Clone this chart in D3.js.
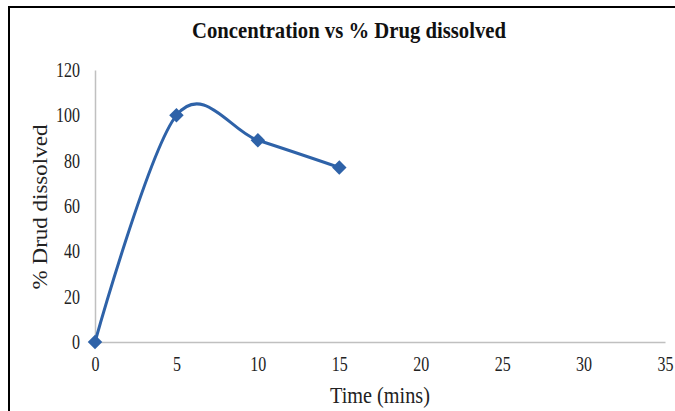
<!DOCTYPE html>
<html>
<head>
<meta charset="utf-8">
<script src="https://cdn.jsdelivr.net/npm/d3@7"></script>
<style>
  body { margin: 0; background: #fff; }
  svg { display: block; }
</style>
</head>
<body>
<div id="chart"></div>
<script>
// data
const times = [0, 5, 10, 15];
const dissolved = [0, 100, 89, 77];
const xTicks = [0, 5, 10, 15, 20, 25, 30, 35];
const yTicks = [0, 20, 40, 60, 80, 100, 120];

const W = 675, H = 411;
const margin = { top: 70, left: 95 };
const width = 665 - margin.left;
const height = 342 - margin.top;

// the source picture is a bit squeezed sideways, so text is narrowed
const squeeze = 0.8;

const svg = d3.select("#chart")
    .append("svg")
    .attr("width", W)
    .attr("height", H);

// frame (only top and left are visible in the shot)
svg.append("line").attr("x1", 8).attr("x2", W).attr("y1", 7).attr("y2", 7)
    .attr("stroke", "#000").attr("stroke-width", 2);
svg.append("line").attr("x1", 9).attr("x2", 9).attr("y1", 6).attr("y2", H)
    .attr("stroke", "#000").attr("stroke-width", 2);

const g = svg.append("g")
    .attr("transform", `translate(${margin.left},${margin.top})`);

const xScale = d3.scaleLinear().domain([0, 35]).range([0, width]);
const yScale = d3.scaleLinear().domain([0, 120]).range([height, 0]);

const font = "'Liberation Serif', 'Times New Roman', serif";

// axes
const xAxis = d3.axisBottom(xScale).tickValues(xTicks).tickSize(0).tickPadding(15);
const yAxis = d3.axisLeft(yScale).tickValues(yTicks).tickSize(0);

g.append("g")
    .attr("transform", `translate(0,${height})`)
    .call(xAxis)
    .call(s => s.select(".domain").attr("stroke", "#c0c0c0").attr("stroke-width", 1.5))
    .call(s => s.selectAll("text")
        .attr("font-family", font).attr("font-size", 20).attr("fill", "#222")
        .attr("transform", `scale(${squeeze},1)`));

g.append("g")
    .call(yAxis)
    .call(s => s.select(".domain").attr("stroke", "#c0c0c0").attr("stroke-width", 1.5))
    .call(s => s.selectAll("text")
        .attr("font-family", font).attr("font-size", 20).attr("fill", "#222")
        .attr("x", -15 / squeeze)
        .attr("transform", `scale(${squeeze},1)`));

// line
const pts = times.map((t, i) => ({ t: t, v: dissolved[i] }));
const line = d3.line()
    .x(d => xScale(d.t))
    .y(d => yScale(d.v))
    .curve(d3.curveCardinal.tension(0));

g.append("path")
    .datum(pts)
    .attr("d", line)
    .attr("fill", "none")
    .attr("stroke", "#2e62a8")
    .attr("stroke-width", 3);

const diamond = d3.symbol().type(d3.symbolSquare).size(105);
g.selectAll(".pt")
    .data(pts)
    .enter()
    .append("path")
    .attr("class", "pt")
    .attr("d", diamond)
    .attr("transform", d => `translate(${xScale(d.t)},${yScale(d.v)}) rotate(45)`)
    .attr("fill", "#2e62a8");

// titles
svg.append("text")
    .attr("transform", `translate(349,38) scale(0.9,1)`)
    .attr("text-anchor", "middle")
    .attr("font-family", font).attr("font-weight", "bold").attr("font-size", 23)
    .attr("fill", "#111")
    .text("Concentration vs % Drug dissolved");

svg.append("text")
    .attr("transform", `translate(380,403) scale(0.88,1)`)
    .attr("text-anchor", "middle")
    .attr("font-family", font).attr("font-size", 23)
    .attr("fill", "#222")
    .text("Time (mins)");

svg.append("text")
    .attr("transform", `translate(47,207) scale(0.88,1) rotate(-90)`)
    .attr("text-anchor", "middle")
    .attr("font-family", font).attr("font-size", 23)
    .attr("fill", "#222")
    .text("% Drud dissolved");
</script>
</body>
</html>
